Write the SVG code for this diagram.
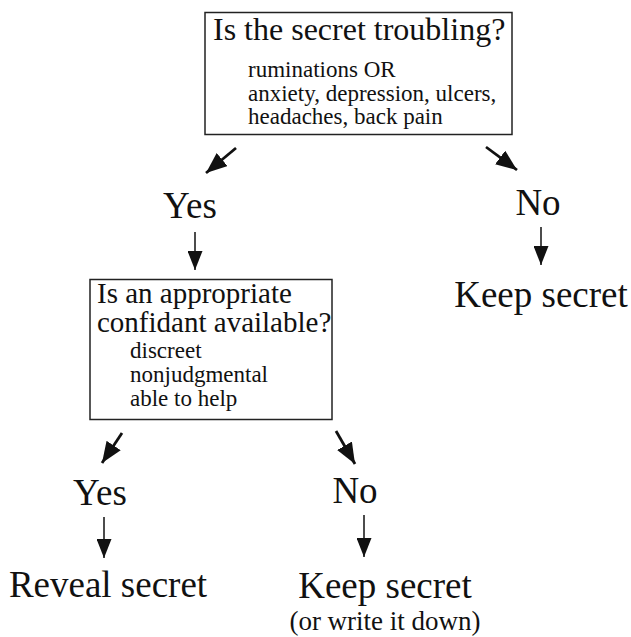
<svg xmlns="http://www.w3.org/2000/svg" width="631" height="637" viewBox="0 0 631 637">
<defs>
<marker id="ah" markerUnits="userSpaceOnUse" markerWidth="19" markerHeight="15" refX="19" refY="7.5" orient="auto" viewBox="0 0 19 15">
<path d="M0,0 L19,7.5 L0,15 Z" fill="#111"/>
</marker>
<marker id="ahd" markerUnits="userSpaceOnUse" markerWidth="21" markerHeight="17" refX="21" refY="8.5" orient="auto" viewBox="0 0 21 17">
<path d="M0,0 L21,8.5 L0,17 Z" fill="#111"/>
</marker>
</defs>
<style>
.box{fill:#fff;stroke:#222;stroke-width:1.5}
.t{font-family:"Liberation Serif","Times New Roman",serif;fill:#111}
.big{font-size:37px}
.q{font-size:32px}
.q2{font-size:29px}
.s{font-size:23px}
.c{stroke:#111;stroke-width:1.5;fill:none;marker-end:url(#ah)}
.d{stroke:#111;stroke-width:2.8;fill:none;marker-end:url(#ahd)}
</style>
<rect width="631" height="637" fill="#fff"/>
<g id="q1">
<rect class="box" x="205" y="12.5" width="307" height="122"/>
<text class="t q" x="213" y="40">Is the secret troubling?</text>
<text class="t s" x="248" y="77">ruminations OR</text>
<text class="t s" x="248" y="101">anxiety, depression, ulcers,</text>
<text class="t s" x="248" y="124">headaches, back pain</text>
</g>
<g id="yes1"><text class="t big" x="190" y="218" text-anchor="middle">Yes</text></g>
<g id="no1"><text class="t big" x="538" y="215" text-anchor="middle">No</text></g>
<g id="keep1"><text class="t big" x="541" y="307" text-anchor="middle">Keep secret</text></g>
<g id="q2">
<rect class="box" x="90" y="279.5" width="242" height="140"/>
<text class="t q2" x="97" y="303">Is an appropriate</text>
<text class="t q2" x="97" y="332">confidant available?</text>
<text class="t s" x="130" y="358">discreet</text>
<text class="t s" x="130" y="382">nonjudgmental</text>
<text class="t s" x="130" y="406">able to help</text>
</g>
<g id="yes2"><text class="t big" x="100" y="505" text-anchor="middle">Yes</text></g>
<g id="no2"><text class="t big" x="355" y="503" text-anchor="middle">No</text></g>
<g id="reveal"><text class="t big" x="108" y="597" text-anchor="middle">Reveal secret</text></g>
<g id="keep2">
<text class="t big" x="385" y="598" text-anchor="middle">Keep secret</text>
<text class="t" font-size="27" x="385" y="630" text-anchor="middle">(or write it down)</text>
</g>
<g id="connectors">
<line class="d" x1="236" y1="148" x2="206" y2="173"/>
<line class="d" x1="486" y1="147" x2="517" y2="170"/>
<line class="c" x1="195" y1="232" x2="195" y2="270"/>
<line class="c" x1="541" y1="227" x2="541" y2="265"/>
<line class="d" x1="122" y1="433" x2="102" y2="463"/>
<line class="d" x1="336" y1="431" x2="355" y2="464"/>
<line class="c" x1="104" y1="517" x2="104" y2="558"/>
<line class="c" x1="364" y1="515" x2="364" y2="557"/>
</g>
</svg>
